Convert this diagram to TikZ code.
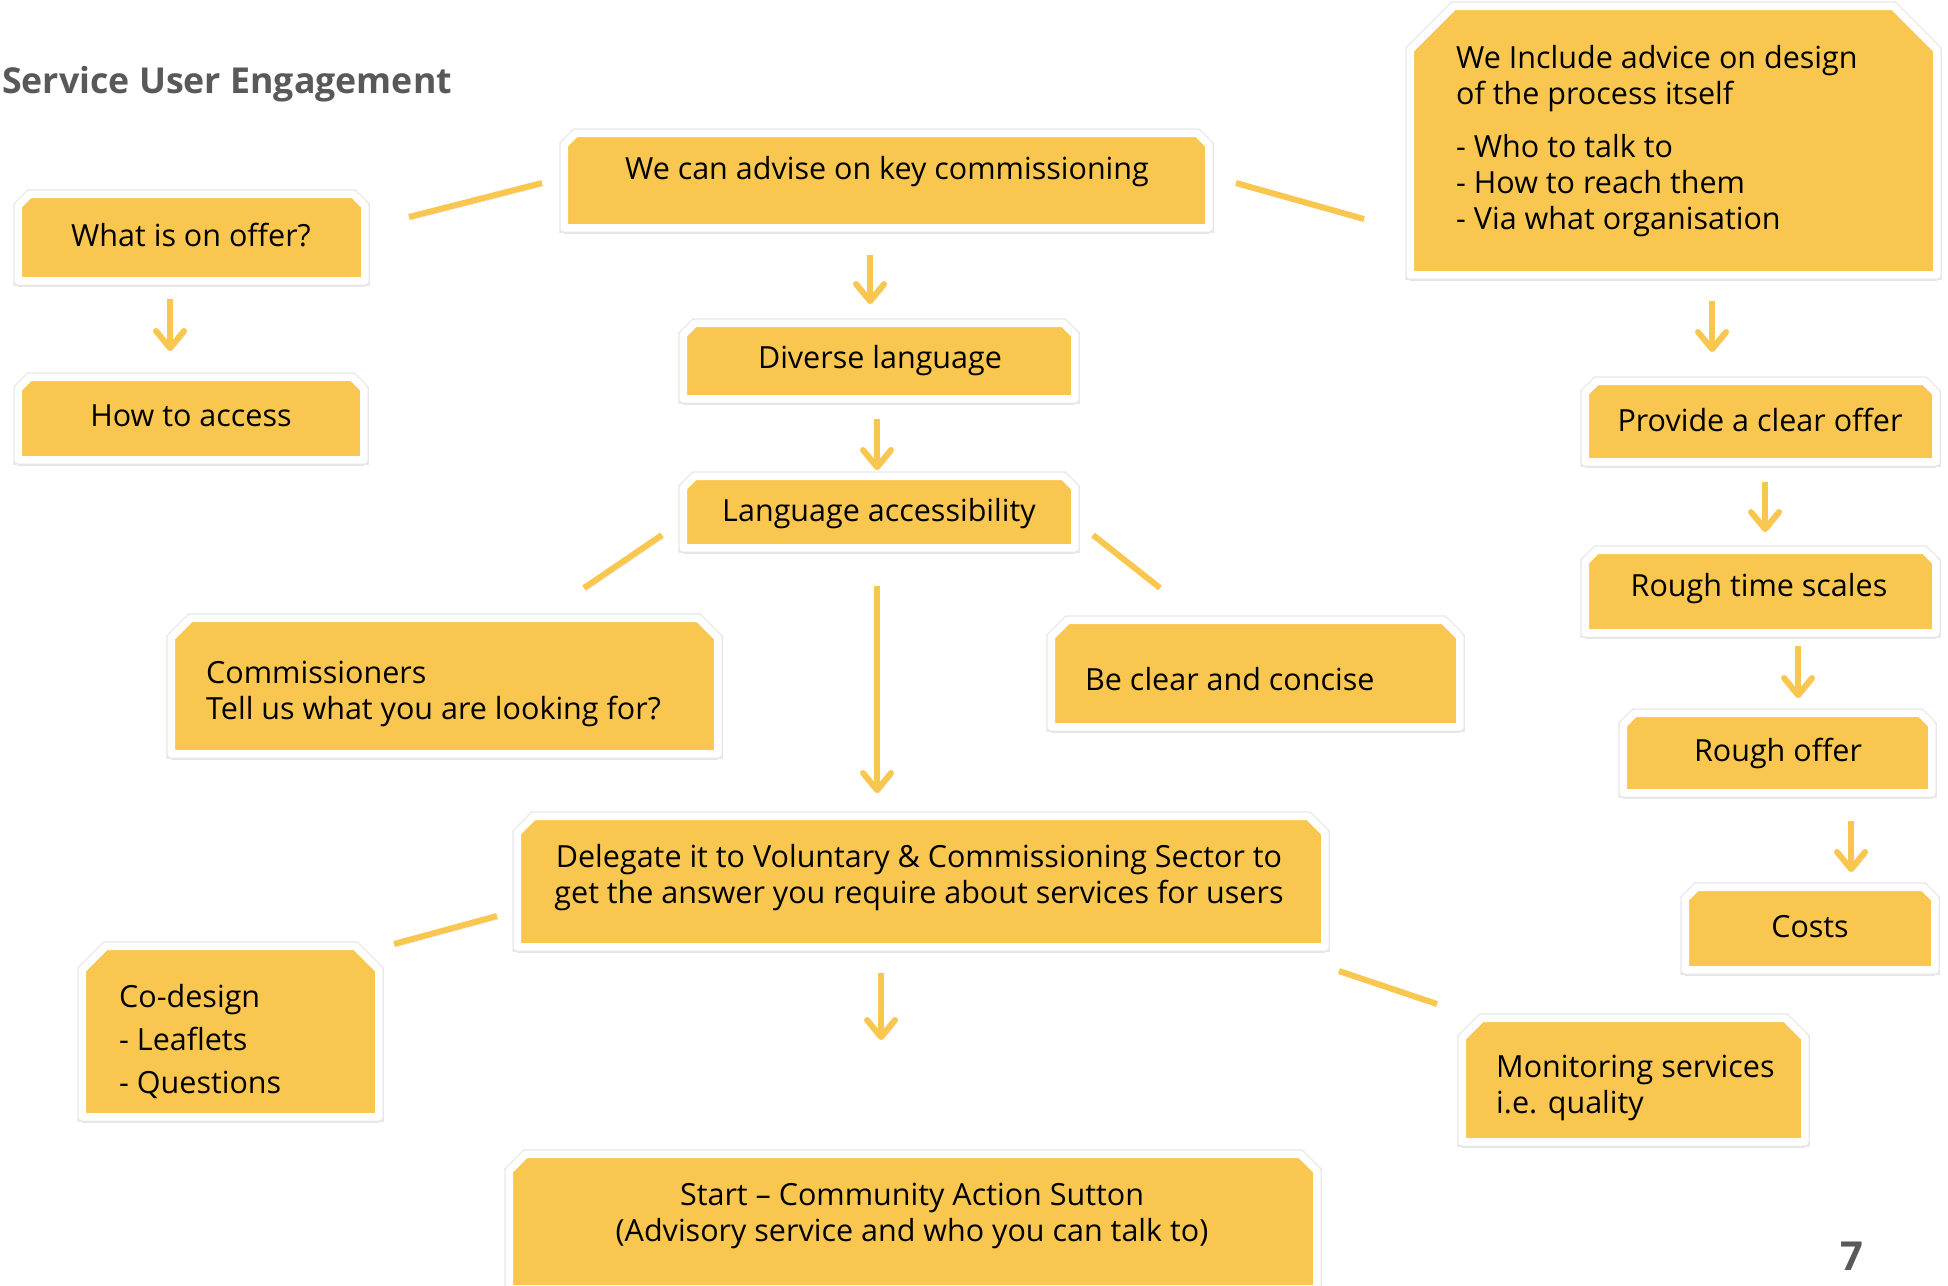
\documentclass[tikz,border=0pt]{standalone}
\usepackage{fontspec}
\setmainfont{Open Sans}
\usetikzlibrary{arrows.meta}
\definecolor{boxy}{RGB}{249,199,79}
\definecolor{titlegray}{RGB}{89,89,89}
\tikzset{
  boxframe/.style={fill=boxy, draw=white, line width=7.5pt, line join=round,
    preaction={fill=black!10, draw=black!10, transform canvas={yshift=-6pt}},
    preaction={fill=black!25, draw=black!25, transform canvas={yshift=-3pt}},
    preaction={draw=black!9, line width=10pt}},
  txt/.style={font=\fontsize{30.5}{36}\selectfont, text=black, inner sep=0pt},
  txtl/.style={txt, anchor=west, align=left},
  arr/.style={draw=boxy, line width=6pt,
    -{Straight Barb[length=17pt, width=28pt, round]},
    preaction={draw=black!12, transform canvas={shift={(2pt,-3pt)}}}},
  link/.style={draw=boxy, line width=6pt,
    preaction={draw=black!12, transform canvas={shift={(2pt,-3pt)}}}},
  heading/.style={font=\fontsize{35.7}{42}\selectfont\bfseries, text=titlegray, inner sep=0pt}
}
% #1 name, #2 x1, #3 y1, #4 x2, #5 y2, #6 chamfer
\newcommand\ybox[6]{%
  \path[boxframe] (#2-3.75,#5+3.75) -- (#2-3.75,#3-3.75+#6+1.5) -- (#2-3.75+#6+1.5,#3-3.75)
    -- (#4+3.75-#6-1.5,#3-3.75) -- (#4+3.75,#3-3.75+#6+1.5) -- (#4+3.75,#5+3.75) -- cycle;
  \coordinate (#1) at ({(#2+#4)/2},{(#3+#5)/2});}
\begin{document}
\begin{tikzpicture}[x=1pt, y=-1pt]
\useasboundingbox (0,0) rectangle (1948,1285);

\node[heading, anchor=west] (title) at (2,84) {Service User Engagement};
\node[heading, font=\fontsize{40}{44}\selectfont\bfseries] (pagenum) at (1852,1256) {7};

% boxes
\ybox{bOffer}{22}{198}{361}{277}{10}
\ybox{bAccess}{22}{381}{360}{456}{10}
\ybox{bAdvise}{568}{137}{1205}{224}{10}
\ybox{bInclude}{1414}{10}{1933}{271}{42}
\ybox{bDiverse}{687}{327}{1071}{395}{10}
\ybox{bLangAcc}{687}{480}{1071}{544}{10}
\ybox{bComm}{175}{622}{714}{750}{18}
\ybox{bClear}{1055}{624}{1456}{723}{15}
\ybox{bDelegate}{521}{820}{1321}{943}{15}
\ybox{bCodesign}{86}{950}{375}{1113}{22}
\ybox{bStart}{513}{1158}{1313}{1285}{15}
\ybox{bMonitor}{1466}{1022}{1801}{1138}{18}
\ybox{bProvide}{1589}{385}{1932}{458}{10}
\ybox{bTime}{1589}{554}{1932}{629}{10}
\ybox{bRough}{1627}{717}{1928}{789}{10}
\ybox{bCosts}{1689}{891}{1931}{966}{10}

% texts
\node[txt] (tOffer) at (191,235) {What is on offer?};
\node[txt] (tAccess) at (191,416) {How to access};
\node[txt] (tAdvise) at (887,172) {We can advise on key commissioning};
\node[txtl] (tInclude) at (1456,141) {We Include advice on design\\of the process itself\\[17pt]- Who to talk to\\- How to reach them\\- Via what organisation};
\node[txt] (tDiverse) at (880,361) {Diverse language};
\node[txt] (tLangAcc) at (879,514) {Language accessibility};
\node[txtl] (tComm) at (206,694) {Commissioners\\Tell us what you are looking for?};
\node[txtl] (tClear) at (1085,679) {Be clear and concise};
\node[txt, align=center] (tDelegate) at (919,878) {Delegate it to Voluntary \& Commissioning Sector to\\get the answer you require about services for users};
\node[txtl, font=\fontsize{30.5}{43}\selectfont] (tCodesign) at (119,1041) {Co-design\\- Leaflets\\- Questions};
\node[txt, align=center] (tStart) at (912,1216) {Start -- Community Action Sutton\\(Advisory service and who you can talk to)};
\node[txtl] (tMonitor) at (1496,1088) {Monitoring services\\i.e. quality};
\node[txt] (tProvide) at (1760,420) {Provide a clear offer};
\node[txt] (tTime) at (1759,589) {Rough time scales};
\node[txt] (tRough) at (1778,753) {Rough offer};
\node[txt] (tCosts) at (1810,927) {Costs};

% connector end points
\coordinate (a1s) at (170,299);  \coordinate (a1e) at (170,351);
\coordinate (a2s) at (870,255);  \coordinate (a2e) at (870,304);
\coordinate (a3s) at (877,419);  \coordinate (a3e) at (877,470);
\coordinate (a4s) at (877,586);  \coordinate (a4e) at (877,793);
\coordinate (a5s) at (881,973);  \coordinate (a5e) at (881,1040);
\coordinate (a6s) at (1712,301); \coordinate (a6e) at (1712,352);
\coordinate (a7s) at (1765,482); \coordinate (a7e) at (1765,532);
\coordinate (a8s) at (1798,646); \coordinate (a8e) at (1798,698);
\coordinate (a9s) at (1851,821); \coordinate (a9e) at (1851,872);
\coordinate (l1s) at (409,217);  \coordinate (l1e) at (542,183);
\coordinate (l2s) at (1236,183); \coordinate (l2e) at (1364,219);
\coordinate (l3s) at (584,588);  \coordinate (l3e) at (662,535);
\coordinate (l4s) at (1093,535); \coordinate (l4e) at (1160,588);
\coordinate (l5s) at (394,944);  \coordinate (l5e) at (497,916);
\coordinate (l6s) at (1339,971); \coordinate (l6e) at (1437,1004);

\foreach \k in {1,...,9} {\draw[arr] (a\k s) -- (a\k e);}
\foreach \k in {1,...,6} {\draw[link] (l\k s) -- (l\k e);}
\end{tikzpicture}
\end{document}
